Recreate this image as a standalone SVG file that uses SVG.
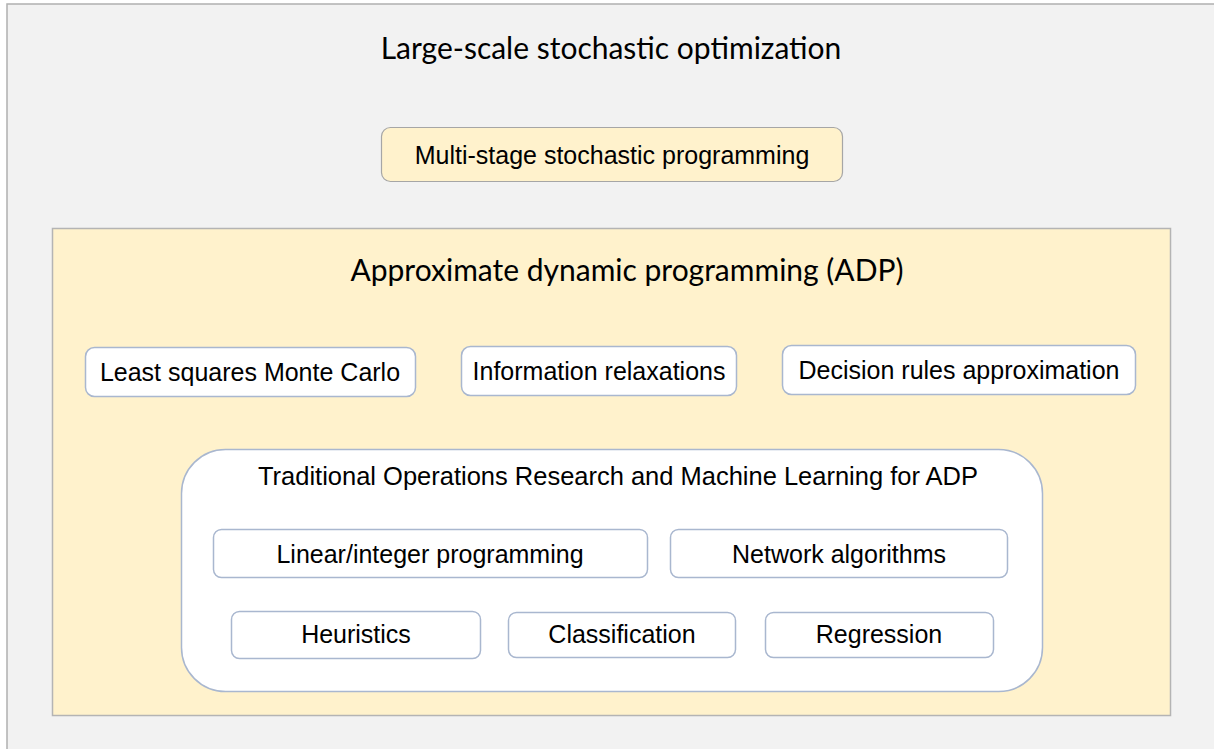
<svg xmlns="http://www.w3.org/2000/svg" width="1214" height="749" viewBox="0 0 1214 749">
  <style>
    .title { font-family: Lato, "Open Sans", sans-serif; font-size: 30px; fill: #000; text-anchor: middle; }
    .label { font-family: "Liberation Sans", Arial, sans-serif; font-size: 25px; fill: #000; text-anchor: middle; }
    .leaf { fill: #ffffff; stroke: #a9b7cf; stroke-width: 1.5; }
    .panel { fill: #fff2cc; stroke: #b4b4b4; stroke-width: 1.5; }
  </style>

  <!-- background frame -->
  <g id="frame">
    <rect x="7" y="4" width="1220" height="760" fill="#f2f2f2" stroke="#b0b0b0" stroke-width="1.5"/>
    <text class="title" x="611" y="59">Large-scale stochastic optimization</text>
  </g>

  <g id="multistage">
    <rect x="381.5" y="127.5" width="461" height="54" rx="9" fill="#fff2cc" stroke="#a6a6a6" stroke-width="1.2"/>
    <text class="label" x="612" y="164">Multi-stage stochastic programming</text>
  </g>

  <!-- ADP panel -->
  <g id="adp">
    <rect class="panel" x="52.5" y="228.5" width="1118" height="487"/>
    <text class="title" x="627" y="281">Approximate dynamic programming (ADP)</text>
  </g>

  <g id="lsmc">
    <rect class="leaf" x="85.5" y="347.5" width="330" height="49" rx="9"/>
    <text class="label" x="250" y="381">Least squares Monte Carlo</text>
  </g>

  <g id="info">
    <rect class="leaf" x="461.5" y="346.5" width="275" height="49" rx="9"/>
    <text class="label" x="599" y="380">Information relaxations</text>
  </g>

  <g id="decision">
    <rect class="leaf" x="782.5" y="345.5" width="353" height="49" rx="9"/>
    <text class="label" x="959" y="379">Decision rules approximation</text>
  </g>

  <!-- OR / ML panel -->
  <g id="traditional">
    <rect class="leaf" x="181.5" y="449.5" width="861" height="242" rx="44"/>
    <text class="label" x="618" y="485" textLength="720" lengthAdjust="spacingAndGlyphs">Traditional Operations Research and Machine Learning for ADP</text>
  </g>

  <g id="linear">
    <rect class="leaf" x="213.5" y="529.5" width="434" height="48" rx="8"/>
    <text class="label" x="430" y="563">Linear/integer programming</text>
  </g>

  <g id="network">
    <rect class="leaf" x="670.5" y="529.5" width="337" height="48" rx="8"/>
    <text class="label" x="839" y="563">Network algorithms</text>
  </g>

  <g id="heuristics">
    <rect class="leaf" x="231.5" y="611.5" width="249" height="47" rx="8"/>
    <text class="label" x="356" y="643">Heuristics</text>
  </g>

  <g id="classification">
    <rect class="leaf" x="508.5" y="612.5" width="227" height="45" rx="8"/>
    <text class="label" x="622" y="643">Classification</text>
  </g>

  <g id="regression">
    <rect class="leaf" x="765.5" y="612.5" width="228" height="45" rx="8"/>
    <text class="label" x="879" y="643">Regression</text>
  </g>

  <g id="connectors"/>
</svg>
